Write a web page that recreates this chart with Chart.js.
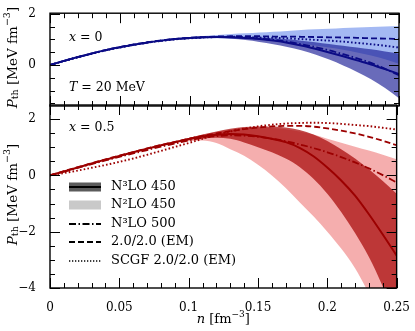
<!DOCTYPE html>
<html>
<head>
<meta charset="utf-8">
<script src="https://cdn.jsdelivr.net/npm/chart.js@4.4.1/dist/chart.umd.min.js"></script>
<style>
  html, body { margin: 0; padding: 0; background: #fff; }
  #wrap { position: relative; width: 415px; height: 331px; }
  #wrap canvas { position: absolute; left: 0; top: 0; }
</style>
</head>
<body>
<div id="wrap">
  <canvas id="top" width="415" height="331"></canvas>
  <canvas id="bot" width="415" height="331"></canvas>
</div>
<script>
// density grid, fm^-3
const n = [0, 0.01, 0.02, 0.03, 0.04, 0.05, 0.06, 0.07, 0.08, 0.09, 0.10, 0.11, 0.12,
           0.13, 0.14, 0.15, 0.16, 0.17, 0.18, 0.19, 0.20, 0.21, 0.22, 0.23, 0.24, 0.25];

// x = 0 panel
const topN3 = [0, 0.16, 0.31, 0.45, 0.58, 0.69, 0.79, 0.88, 0.95, 1.01, 1.05, 1.08, 1.09, 1.08, 1.05, 1.01, 0.95, 0.87, 0.76, 0.63, 0.49, 0.34, 0.18, 0.02, -0.16, -0.35];
const topN3hi = [0, 0.16, 0.31, 0.45, 0.58, 0.70, 0.80, 0.89, 0.96, 1.02, 1.06, 1.09, 1.10, 1.10, 1.09, 1.07, 1.04, 1.00, 0.95, 0.89, 0.82, 0.75, 0.68, 0.61, 0.53, 0.45];
const topN3lo = [0, 0.15, 0.30, 0.44, 0.57, 0.68, 0.78, 0.87, 0.94, 1.00, 1.03, 1.05, 1.05, 1.02, 0.97, 0.90, 0.81, 0.70, 0.57, 0.41, 0.21, -0.02, -0.27, -0.56, -0.90, -1.30];
const topN2hi = [0, 0.17, 0.32, 0.46, 0.59, 0.71, 0.81, 0.90, 0.98, 1.04, 1.09, 1.13, 1.17, 1.21, 1.24, 1.27, 1.30, 1.33, 1.36, 1.39, 1.41, 1.44, 1.46, 1.48, 1.50, 1.52];
const topN2lo = [0, 0.15, 0.30, 0.44, 0.57, 0.68, 0.78, 0.87, 0.94, 1.00, 1.03, 1.04, 1.04, 1.03, 1.01, 0.98, 0.94, 0.89, 0.83, 0.76, 0.68, 0.59, 0.49, 0.37, 0.22, 0.05];
const topN3500 = [0, 0.16, 0.31, 0.45, 0.58, 0.69, 0.79, 0.88, 0.95, 1.01, 1.05, 1.08, 1.09, 1.09, 1.07, 1.03, 0.98, 0.91, 0.81, 0.70, 0.57, 0.42, 0.26, 0.08, -0.15, -0.40];
const topEM = [0, 0.16, 0.31, 0.45, 0.58, 0.70, 0.80, 0.89, 0.96, 1.02, 1.06, 1.09, 1.11, 1.12, 1.12, 1.12, 1.11, 1.11, 1.10, 1.09, 1.08, 1.07, 1.06, 1.04, 1.03, 1.01];
const topSCGF = [0, 0.15, 0.30, 0.44, 0.57, 0.68, 0.78, 0.87, 0.94, 1.00, 1.04, 1.07, 1.09, 1.10, 1.09, 1.07, 1.06, 1.04, 1.01, 0.98, 0.95, 0.91, 0.86, 0.81, 0.75, 0.68];

// x = 0.5 panel
const botN3 = [0, 0.14, 0.28, 0.42, 0.56, 0.69, 0.82, 0.95, 1.07, 1.18, 1.29, 1.38, 1.44, 1.47, 1.45, 1.39, 1.30, 1.18, 0.98, 0.68, 0.28, -0.18, -0.72, -1.38, -2.10, -2.85];
const botN3hi = [0, 0.15, 0.29, 0.43, 0.57, 0.70, 0.83, 0.96, 1.08, 1.20, 1.32, 1.45, 1.56, 1.66, 1.72, 1.74, 1.74, 1.70, 1.61, 1.45, 1.22, 0.93, 0.60, 0.22, -0.20, -0.65];
const botN3lo = [0, 0.13, 0.27, 0.41, 0.55, 0.68, 0.81, 0.94, 1.06, 1.16, 1.25, 1.32, 1.34, 1.30, 1.17, 1.00, 0.82, 0.60, 0.30, -0.12, -0.65, -1.30, -2.05, -2.90, -3.95, -5.20];
const botN2hi = [0, 0.15, 0.30, 0.44, 0.58, 0.71, 0.84, 0.97, 1.09, 1.21, 1.33, 1.44, 1.54, 1.62, 1.67, 1.69, 1.68, 1.64, 1.56, 1.45, 1.30, 1.16, 1.02, 0.88, 0.73, 0.57];
const botN2lo = [0, 0.12, 0.26, 0.40, 0.53, 0.66, 0.79, 0.91, 1.03, 1.13, 1.21, 1.24, 1.15, 0.93, 0.70, 0.38, 0.00, -0.45, -0.95, -1.45, -2.00, -2.60, -3.30, -4.20, -5.20, -6.30];
const botN3500 = [0, 0.13, 0.27, 0.40, 0.53, 0.66, 0.78, 0.90, 1.02, 1.13, 1.24, 1.33, 1.39, 1.42, 1.41, 1.37, 1.30, 1.21, 1.10, 0.97, 0.82, 0.65, 0.46, 0.25, 0.01, -0.25];
const botEM = [0, 0.15, 0.29, 0.43, 0.57, 0.70, 0.83, 0.96, 1.08, 1.19, 1.30, 1.40, 1.49, 1.57, 1.64, 1.70, 1.74, 1.76, 1.76, 1.73, 1.67, 1.59, 1.49, 1.37, 1.23, 1.07];
const botSCGF = [0, 0.08, 0.17, 0.27, 0.37, 0.48, 0.60, 0.73, 0.87, 1.01, 1.15, 1.30, 1.44, 1.56, 1.66, 1.74, 1.80, 1.84, 1.86, 1.87, 1.86, 1.83, 1.79, 1.75, 1.69, 1.63];

const xTicks = [0, 0.05, 0.1, 0.15, 0.2, 0.25];
const legendLabels = ['N³LO 450', 'N²LO 450', 'N³LO 500', '2.0/2.0 (EM)', 'SCGF 2.0/2.0 (EM)'];

const SERIF = '"DejaVu Serif", serif';
const f = (size, style) => (style ? style + ' ' : '') + size + 'px ' + SERIF;

const pts = arr => arr.map((v, i) => ({ x: n[i], y: v }));

function line(data, color, dash, width, order) {
  return { data: pts(data), borderColor: color, borderWidth: width || 1.8, borderDash: dash || [],
           pointRadius: 0, fill: false, order: order || 0, cubicInterpolationMode: 'monotone' };
}
function bandEdge(data, color, order, fillIt) {
  return { data: pts(data), borderWidth: 0, borderColor: 'rgba(0,0,0,0)', backgroundColor: color,
           pointRadius: 0, fill: fillIt ? '+1' : false, order: order, cubicInterpolationMode: 'monotone' };
}

function makeSets(c, light, dark, hiN2, loN2, hiN3, loN3, solid, dd, dash, dot) {
  return [
    line(solid, c, [], 2),
    line(dd, c, [7, 2.5, 1.5, 2.5]),
    line(dash, c, [6, 3]),
    line(dot, c, [1.6, 2.2], 1.9),
    bandEdge(hiN3, dark, 1, true),
    bandEdge(loN3, dark, 1, false),
    bandEdge(hiN2, light, 2, true),
    bandEdge(loN2, light, 2, false)
  ];
}

function textWidth(ctx, parts) {
  let w = 0;
  for (const p of parts) { ctx.font = p[1]; w += ctx.measureText(p[0]).width; }
  return w;
}
function drawRich(ctx, parts, x, y, align) {
  let cx = align === 'center' ? x - textWidth(ctx, parts) / 2 : x;
  for (const p of parts) {
    ctx.font = p[1];
    ctx.fillText(p[0], cx, y + (p[2] || 0));
    cx += ctx.measureText(p[0]).width;
  }
}

const yTitle = [['P', f(13.5, 'italic')], ['th', f(9.5), 3], [' [MeV fm', f(13.5)], ['−3', f(9.5), -5], [']', f(13.5)]];

// frame, inward ticks, titles, notes
const decor = {
  id: 'decor',
  afterDraw(chart, args, o) {
    const { ctx, chartArea: a, scales: { x, y } } = chart;
    ctx.save();
    ctx.strokeStyle = '#000';
    ctx.lineWidth = 1.4;
    ctx.strokeRect(a.left, a.top, a.right - a.left, a.bottom - a.top);
    ctx.lineWidth = 1;
    ctx.beginPath();
    for (let i = 0; i <= 25; i++) {
      const px = Math.round(x.getPixelForValue(i / 100)) + 0.5;
      const len = i % 5 === 0 ? 10 : 5;
      ctx.moveTo(px, a.bottom); ctx.lineTo(px, a.bottom - len);
      ctx.moveTo(px, a.top); ctx.lineTo(px, a.top + len);
    }
    for (let v = o.yFrom; v <= o.yTo + 1e-9; v += 0.5) {
      const py = Math.round(y.getPixelForValue(v)) + 0.5;
      const len = Math.abs(v % 2) < 1e-9 ? 10 : 5;
      ctx.moveTo(a.left, py); ctx.lineTo(a.left + len, py);
      ctx.moveTo(a.right, py); ctx.lineTo(a.right - len, py);
    }
    ctx.stroke();

    ctx.fillStyle = '#000';
    ctx.textBaseline = 'middle';
    ctx.save();
    ctx.translate(13, (a.top + a.bottom) / 2 - 2);
    ctx.rotate(-Math.PI / 2);
    drawRich(ctx, yTitle, 0, 0, 'center');
    ctx.restore();
    for (const note of o.notes) drawRich(ctx, note.parts, a.left + note.dx, a.top + note.dy, 'left');

    if (o.xTitle) {
      drawRich(ctx, [['n', f(13, 'italic')], [' [fm', f(13)], ['−3', f(9), -5], [']', f(13)]],
        (a.left + a.right) / 2, 320, 'center');
    }
    if (o.legend) {
      const x0 = a.left + 19, x1 = a.left + 51, tx = a.left + 61;
      const ys = [187, 205, 224, 242, 261];
      ys.forEach((ly, i) => {
        ctx.save();
        if (i === 0 || i === 1) {
          ctx.fillStyle = i === 0 ? '#5b5b5b' : '#c9c9c9';
          ctx.fillRect(x0, ly - 4.5, x1 - x0, 9);
          if (i === 0) { ctx.fillStyle = '#000'; ctx.fillRect(x0, ly - 1, x1 - x0, 2); }
        } else {
          ctx.strokeStyle = '#000';
          ctx.lineWidth = i === 4 ? 1.5 : 1.8;
          ctx.setLineDash(i === 2 ? [7, 2.5, 1.5, 2.5] : i === 3 ? [6, 3] : [1.3, 1.7]);
          ctx.beginPath(); ctx.moveTo(x0, ly); ctx.lineTo(x1, ly); ctx.stroke();
        }
        ctx.restore();
        ctx.fillStyle = '#000';
        ctx.font = f(13);
        ctx.fillText(legendLabels[i], tx, ly);
      });
    }
    ctx.restore();
  }
};

function fmtX(v) { return String(+v.toFixed(2)); }
function fmtY(v) { return v < 0 ? '−' + Math.abs(v) : String(v); }

function makeChart(id, sets, yMin, yMax, yLabels, pad, opts, showX) {
  return new Chart(document.getElementById(id), {
    type: 'line',
    data: { datasets: sets },
    plugins: [decor],
    options: {
      responsive: false, animation: false, devicePixelRatio: 1,
      layout: { padding: pad },
      plugins: { legend: { display: false }, tooltip: { enabled: false }, decor: opts },
      scales: {
        x: {
          type: 'linear', min: 0, max: 0.25,
          grid: { display: false }, border: { display: false },
          afterBuildTicks: s => { s.ticks = xTicks.map(v => ({ value: v })); },
          afterFit: s => { s.height = showX ? 43 : 0; },
          ticks: { display: showX, padding: 5, color: '#000', font: { family: SERIF, size: 12 }, callback: fmtX, maxRotation: 0 }
        },
        y: {
          min: yMin, max: yMax,
          grid: { display: false }, border: { display: false },
          afterBuildTicks: s => { s.ticks = yLabels.map(v => ({ value: v })); },
          afterFit: s => { s.width = 50; },
          ticks: { padding: 6, color: '#000', font: { family: SERIF, size: 12 }, callback: fmtY }
        }
      }
    }
  });
}

makeChart('top',
  makeSets('#0b0b85', 'rgba(80,120,232,0.52)', 'rgba(28,30,150,0.66)',
    topN2hi, topN2lo, topN3hi, topN3lo, topN3, topN3500, topEM, topSCGF),
  -1.6, 2.02, [0, 2], { left: 0, top: 6, right: 16, bottom: 225 },
  { yFrom: -1.5, yTo: 2, notes: [
      { dx: 19, dy: 25, parts: [['x', f(12.5, 'italic')], [' = 0', f(12.5)]] },
      { dx: 19, dy: 75, parts: [['T', f(12.5, 'italic')], [' = 20 MeV', f(12.5)]] }
  ] }, false);

makeChart('bot',
  makeSets('#9c0000', 'rgba(238,120,120,0.6)', 'rgba(172,18,18,0.76)',
    botN2hi, botN2lo, botN3hi, botN3lo, botN3, botN3500, botEM, botSCGF),
  -4, 2.5, [-4, -2, 0, 2], { left: 0, top: 105, right: 16, bottom: 0 },
  { yFrom: -4, yTo: 2, xTitle: true, legend: true, notes: [
      { dx: 19, dy: 23, parts: [['x', f(12.5, 'italic')], [' = 0.5', f(12.5)]] }
  ] }, true);
</script>
</body>
</html>
